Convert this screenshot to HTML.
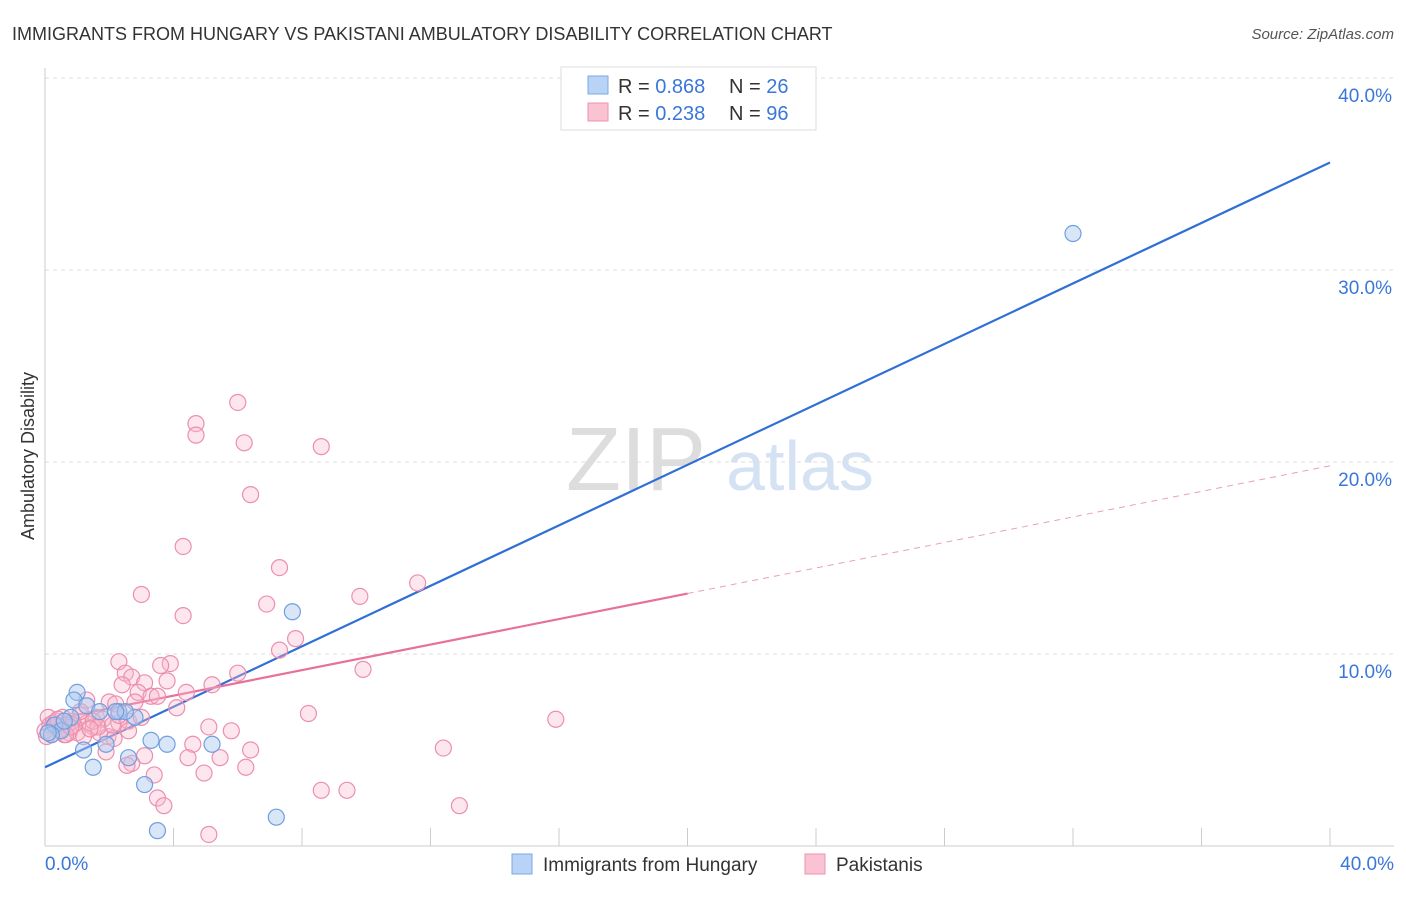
<!DOCTYPE html>
<html><head><meta charset="utf-8"><style>
body{margin:0;background:#fff;font-family:"Liberation Sans",sans-serif;}
svg text{font-family:"Liberation Sans",sans-serif;}
</style></head><body>
<svg id="chart" width="1406" height="892" xmlns="http://www.w3.org/2000/svg">
<text x="12" y="40" font-size="18" fill="#333">IMMIGRANTS FROM HUNGARY VS PAKISTANI AMBULATORY DISABILITY CORRELATION CHART</text>
<text x="1394" y="39" font-size="15" fill="#555" font-style="italic" text-anchor="end">Source: ZipAtlas.com</text>
<text x="34" y="456" font-size="18" fill="#333" transform="rotate(-90 34 456)" text-anchor="middle">Ambulatory Disability</text>
<g><text x="636" y="490" font-size="90" fill="#ddd" font-family="Liberation Serif" text-anchor="middle">ZIP</text><text x="800" y="490" font-size="70" fill="#d4e2f4" text-anchor="middle">atlas</text></g>
<g id="grid"></g><g id="axes"></g><g id="lines"></g><g id="pts"></g>
<g>
<rect x="561" y="67" width="255" height="63" fill="#fff" stroke="#ddd"/>
<rect x="588" y="76" width="20" height="18" fill="#b8d3f5" stroke="#7aa8e6"/>
<rect x="588" y="103" width="20" height="18" fill="#f9c3d3" stroke="#ef93b0"/>
<text x="618" y="93" font-size="20" fill="#333">R = <tspan fill="#3a77d8">0.868</tspan></text>
<text x="729" y="93" font-size="20" fill="#333">N = <tspan fill="#3a77d8">26</tspan></text>
<text x="618" y="120" font-size="20" fill="#333">R = <tspan fill="#3a77d8">0.238</tspan></text>
<text x="729" y="120" font-size="20" fill="#333">N = <tspan fill="#3a77d8">96</tspan></text>
</g>
<g>
<rect x="512" y="854" width="20" height="20" fill="#b8d3f5" stroke="#7aa8e6"/>
<text x="543" y="871" font-size="19" fill="#333">Immigrants from Hungary</text>
<rect x="805" y="854" width="20" height="20" fill="#f9c3d3" stroke="#ef93b0"/>
<text x="836" y="871" font-size="19" fill="#333">Pakistanis</text>
</g>
</svg>
<script>
const yTicks=[10,20,30,40];
const xTickLabels=["0.0%","40.0%"];
const hungaryX=[32,7.7,1.0,0.9,1.3,2.3,2.8,0.8,2.5,1.2,1.9,1.5,3.3,3.8,5.2,2.6,3.1,3.5,7.2,0.3,0.5,0.2,0.6,1.7,2.2,0.1];
const hungaryY=[31.9,12.2,8.0,7.6,7.3,7.0,6.7,6.7,7.0,5.0,5.3,4.1,5.5,5.3,5.3,4.6,3.2,0.8,1.5,6.3,6.0,5.8,6.5,7.0,7.0,5.9];
const pakX=[6.0,4.7,4.7,6.2,8.6,6.4,4.3,7.3,3.0,11.6,9.8,6.9,4.3,7.8,7.3,2.3,3.9,3.6,2.5,6.0,2.7,9.9,3.8,2.4,3.1,5.2,2.9,4.4,3.3,3.5,1.3,2.0,2.2,2.8,4.1,8.2,15.9,1.1,1.6,1.8,2.6,2.3,3.0,5.1,5.8,1.3,1.5,0.9,0.75,0.3,0.5,0.1,0.2,0.6,1.7,1.96,2.15,4.6,6.4,12.4,1.9,3.1,4.45,5.45,2.7,2.55,6.25,3.4,4.95,8.6,9.4,3.5,3.7,12.9,5.1,1.1,0.85,0.15,0.35,0.55,0.7,1.0,1.2,1.5,1.65,2.1,2.3,2.6,0.0,0.05,0.25,0.4,0.45,0.65,0.8,1.4];
const pakY=[23.1,22.0,21.4,21.0,20.8,18.3,15.6,14.5,13.1,13.7,13.0,12.6,12.0,10.8,10.2,9.6,9.5,9.4,9.0,9.0,8.8,9.2,8.6,8.4,8.5,8.4,8.0,8.0,7.8,7.8,7.6,7.5,7.4,7.5,7.2,6.9,6.6,6.8,6.7,6.6,6.5,6.4,6.7,6.2,6.0,6.4,6.2,6.3,5.9,6.3,6.1,6.7,5.8,5.8,5.9,5.7,5.6,5.3,5.0,5.1,4.9,4.7,4.6,4.6,4.3,4.2,4.1,3.7,3.8,2.9,2.9,2.5,2.1,2.1,0.6,7.0,6.5,6.3,6.5,6.7,6.3,5.9,5.7,6.5,6.2,6.3,6.8,6.0,6.0,5.7,6.4,6.6,6.0,5.8,6.2,6.1];
const hungaryFit=[4.1,35.6];
const pakFit=[6.5,19.8];
const pakSolidEnd=20;
const X=v=>45+v*32.125, Y=v=>846-v*19.2;
const NS="http://www.w3.org/2000/svg";
function mk(t,a,p){const e=document.createElementNS(NS,t);for(const k in a)e.setAttribute(k,a[k]);p.appendChild(e);return e;}
const grid=document.getElementById('grid'),axes=document.getElementById('axes'),lines=document.getElementById('lines'),pts=document.getElementById('pts');
yTicks.forEach(t=>{
 const l=mk('line',{x1:45,x2:1394,y1:Y(t),y2:Y(t),stroke:'#ddd','stroke-dasharray':'4,4'},grid);
 
 
 const tx=mk('text',{x:1392,y:Y(t)+24,'font-size':19,fill:'#3a77d8','text-anchor':'end'},axes);
 tx.textContent=t.toFixed(1)+'%';
 
 
});
const ax=mk('line',{x1:45,x2:1394,y1:846,y2:846,stroke:'#ccc'},axes);


const ay=mk('line',{x1:45,x2:45,y1:68,y2:846,stroke:'#ccc'},axes);


for(let i=1;i<=10;i++){const t=mk('line',{x1:X(i*4),x2:X(i*4),y1:828,y2:846,stroke:'#ccc'},axes);
 
 }
[[0,'start',45],[40,'end',1394]].forEach((d,i)=>{const t=mk('text',{x:d[2],y:870,'font-size':19,fill:'#3a77d8','text-anchor':d[1]},axes);t.textContent=xTickLabels[i];
 
 });
const pf=v=>pakFit[0]+(pakFit[1]-pakFit[0])*v/40;
const hl=mk('line',{x1:X(0),y1:Y(hungaryFit[0]),x2:X(40),y2:Y(hungaryFit[1]),stroke:'#2f6fd6','stroke-width':2.2},lines);


const pl=mk('line',{x1:X(0),y1:Y(pf(0)),x2:X(pakSolidEnd),y2:Y(pf(pakSolidEnd)),stroke:'#e8709a','stroke-width':2.2},lines);


const pd=mk('line',{x1:X(pakSolidEnd),y1:Y(pf(pakSolidEnd)),x2:X(40),y2:Y(pf(40)),stroke:'#e8a0b8','stroke-width':1,'stroke-dasharray':'6,5'},lines);


pakX.forEach((x,i)=>{const c=mk('circle',{cx:X(x),cy:Y(pakY[i]),r:8,fill:'rgba(249,183,204,0.35)',stroke:'#ec8fae','stroke-width':1.2},pts);
 
 });
hungaryX.forEach((x,i)=>{const c=mk('circle',{cx:X(x),cy:Y(hungaryY[i]),r:8,fill:'rgba(170,200,240,0.45)',stroke:'#6f9fe0','stroke-width':1.2},pts);
 
 });
</script>
</body></html>
